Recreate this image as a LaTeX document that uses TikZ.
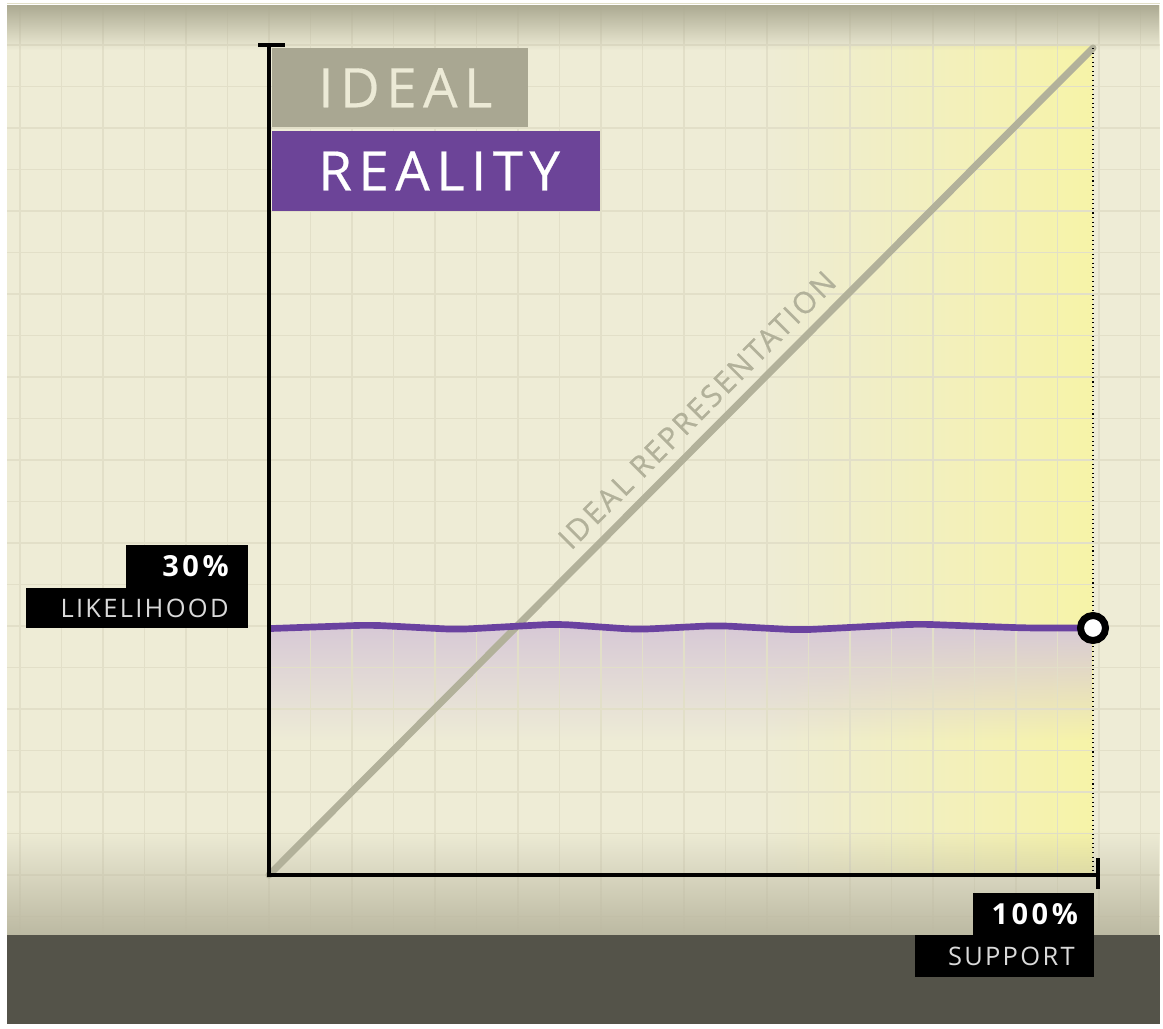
\documentclass[tikz,border=0pt]{standalone}
\usepackage{fontspec}
\setmainfont{Open Sans}
\newfontfamily\tagfont[LetterSpace=12, FakeBold=0.4]{Open Sans}
\newfontfamily\wordfont[LetterSpace=9]{Open Sans}
\newfontfamily\diagfont[LetterSpace=8, FakeBold=0.6]{Open Sans}
\newfontfamily\numfont[LetterSpace=12]{Open Sans Bold}
\usetikzlibrary{positioning,fadings}

\definecolor{paper}{RGB}{238,236,214}
\definecolor{topshade}{RGB}{172,170,146}
\definecolor{floorshade}{RGB}{188,185,162}
\definecolor{darkband}{RGB}{84,83,73}
\definecolor{gridtan}{RGB}{226,223,200}
\definecolor{glow}{RGB}{247,244,168}
\definecolor{lavender}{RGB}{216,202,214}
\definecolor{idealgray}{RGB}{169,167,146}
\definecolor{idealtext}{RGB}{236,234,214}
\definecolor{realpurple}{RGB}{108,68,152}
\definecolor{realline}{RGB}{106,66,160}
\definecolor{diaggray}{RGB}{178,177,154}
\definecolor{diagtext}{RGB}{178,177,154}
\definecolor{wordgray}{RGB}{218,218,218}

\tikzfading[name=glowfade, left color=transparent!100, right color=transparent!0]
\tikzfading[name=dropfade, top color=transparent!0, bottom color=transparent!100]
\tikzfading[name=risefade, top color=transparent!100, bottom color=transparent!0]

\tikzset{
  gridline/.style={draw=gridtan, line width=0.6pt},
  axis/.style={black, line width=2.4pt},
  tagbox/.style={rectangle, inner sep=0pt, inner xsep=0.92cm, anchor=north west,
    align=left, font=\tagfont\fontsize{31}{31}\selectfont, text height=22.1pt, text depth=0pt},
  valbox/.style={rectangle, fill=black, inner sep=0pt, inner xsep=0.38cm, align=right},
  wordbox/.style={valbox, text=wordgray, font=\wordfont\fontsize{14.5}{14.5}\selectfont,
    text height=10.3pt, text depth=0pt},
  numbox/.style={valbox, text=white, font=\numfont\fontsize{16.5}{16.5}\selectfont,
    text height=11.8pt, text depth=0pt},
  markdot/.style={circle, draw=black, line width=4pt, fill=white, inner sep=0pt, minimum size=0.5cm}
}

\begin{document}
\begin{tikzpicture}[x=0.02cm,y=-0.02cm]
\useasboundingbox (0,0) rectangle (1163,1028);
\fill[white] (0,0) rectangle (1163,1028);
\fill[paper] (7,5) rectangle (1160,935);
\fill[glow, path fading=glowfade] (760,45) rectangle (1093,875);
\fill[lavender, path fading=dropfade] (269,628) rectangle (1093,740);
\foreach \i in {-6,...,21}
  \draw[gridline] (269+41.5*\i,5) -- (269+41.5*\i,935);
\foreach \j in {-21,...,1}
  \draw[gridline] (7,875+41.5*\j) -- (1160,875+41.5*\j);
\fill[topshade, path fading=dropfade] (7,5) rectangle (1160,50);
\fill[floorshade, path fading=risefade] (7,830) rectangle (1160,935);
\fill[darkband] (7,935) rectangle (1160,1024);

\coordinate (origin) at (269,875);
\coordinate (ytop) at (269,45);
\coordinate (xend) at (1098,875);
\coordinate (peak) at (1093,48);
\coordinate (mark) at (1093,628);

\draw[diaggray, line width=4pt, line cap=round] (origin) -- (peak);
\node[rotate=45, text=diagtext, font=\diagfont\fontsize{17}{17}\selectfont] (diaglabel) at (697,410) {IDEAL REPRESENTATION};
\draw[black, dotted, line width=0.6pt] (peak) -- (1093,875);
\draw[realline, line width=3.8pt, rounded corners=8pt] (271,628.5) -- (370,625) -- (457,629.5) -- (557,624) -- (637,629.5) -- (717,625.5) -- (800,630) -- (917,624) -- (1027,628) -- (mark);
\node[markdot] (dot) at (mark) {};

\draw[axis] (ytop) -- (origin) -- (xend);
\draw[axis] ([xshift=-0.22cm]ytop) -- ([xshift=0.32cm]ytop);
\draw[axis] ([yshift=0.34cm]xend) -- ([yshift=-0.28cm]xend);

\node[tagbox, fill=idealgray, text=idealtext, text width=3.28cm, minimum height=1.58cm] (ideal) at (272,48) {IDEAL};
\node[tagbox, fill=realpurple, text=white, text width=4.72cm, minimum height=1.6cm] (reality) at ([yshift=-0.06cm]ideal.south west) {REALITY};

\node[wordbox, text width=3.68cm, minimum height=0.8cm, anchor=north east] (likeword) at (248,588) {LIKELIHOOD};
\node[numbox, text width=1.68cm, minimum height=0.86cm, anchor=south east] (likeval) at (likeword.north east) {30\%};
\node[wordbox, text width=2.82cm, minimum height=0.84cm, anchor=north east] (supportword) at (1094,935) {SUPPORT};
\node[numbox, text width=1.66cm, minimum height=0.84cm, anchor=south east] (supportval) at (supportword.north east) {100\%};
\end{tikzpicture}
\end{document}
